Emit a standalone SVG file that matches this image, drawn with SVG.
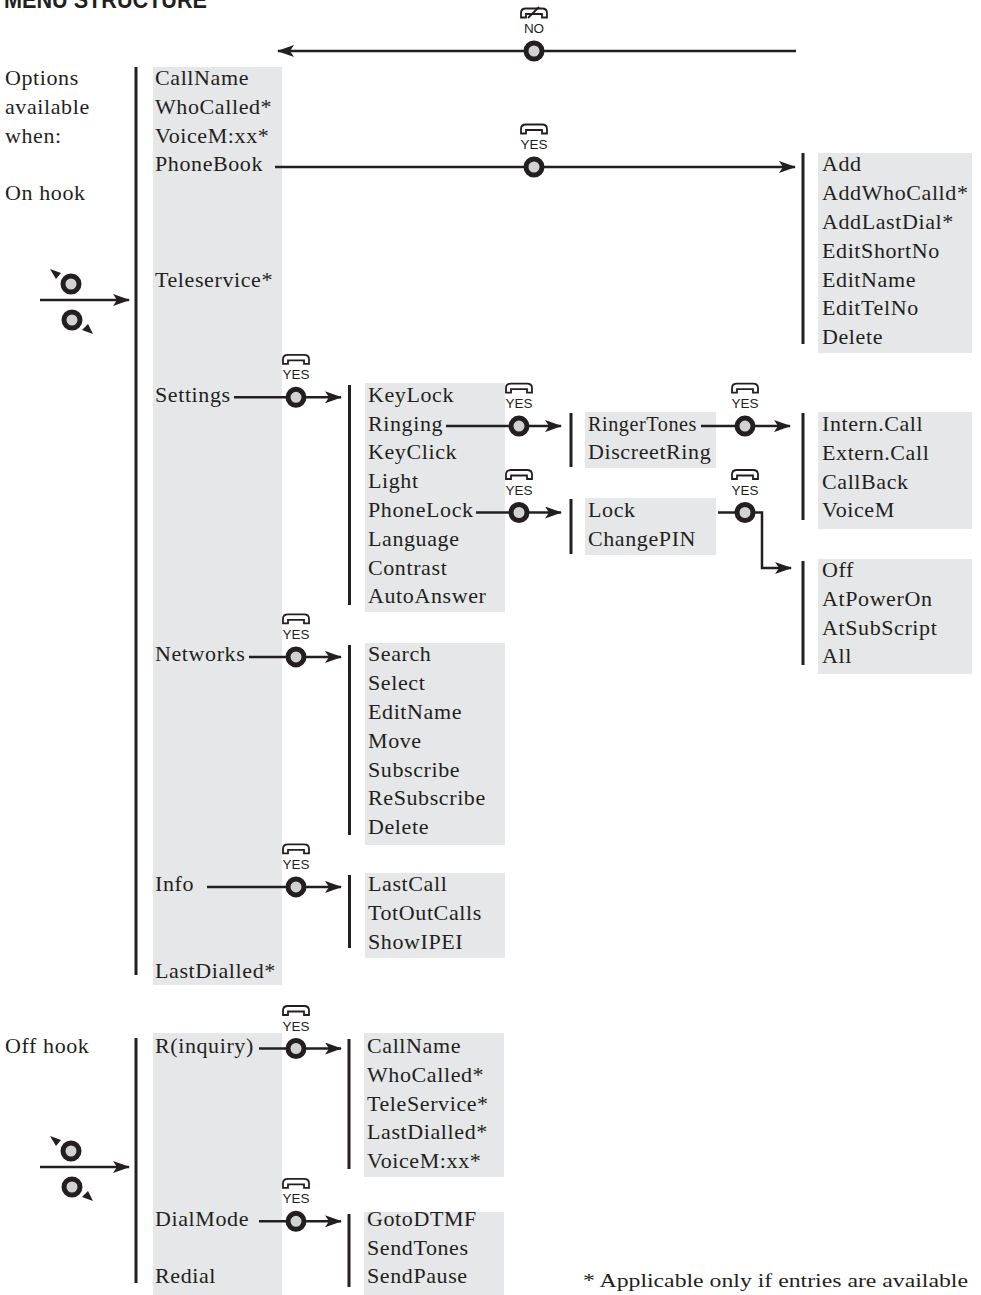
<svg xmlns="http://www.w3.org/2000/svg" xmlns:xlink="http://www.w3.org/1999/xlink" width="981" height="1295" viewBox="0 0 981 1295">
<style>
.box{fill:#e6e7e8}
.bar{stroke:#231f20;stroke-width:3}
.t{font-family:"Liberation Serif",serif;font-size:22px;letter-spacing:0.6px;fill:#231f20}
.lbl{font-family:"Liberation Sans",sans-serif;font-size:13.5px;fill:#231f20;text-anchor:middle}
.ln{stroke:#231f20;stroke-width:2.5;fill:none}
.ttl{font-family:"Liberation Sans",sans-serif;font-weight:bold;font-size:24px;fill:#231f20}
.fn{font-family:"Liberation Serif",serif;font-size:18px;fill:#231f20}
</style>
<defs>
<marker id="ah" markerUnits="userSpaceOnUse" markerWidth="17" markerHeight="12" viewBox="0 0 17 12" refX="16" refY="6" orient="auto">
<path d="M0,0 L17,6 L0,12 L4,6 Z" fill="#231f20"/>
</marker>
<circle id="knob" cx="0" cy="0" r="8" fill="#d1d2d4" stroke="#231f20" stroke-width="5"/>
<path id="ph" d="M-13,4.5 V0 Q-13,-4.5 -8,-4.5 H8 Q13,-4.5 13,0 V4.5 H8 V1 H-8 V4.5 Z" fill="#fff" stroke="#231f20" stroke-width="1.8"/>
<g id="yes"><use xlink:href="#ph" x="0" y="-38"/><text class="lbl" x="0" y="-18">YES</text></g>
<g id="nav">
<line class="ln" x1="40" y1="0" x2="129" y2="0" marker-end="url(#ah)"/>
<use xlink:href="#knob" x="71" y="-16"/>
<use xlink:href="#knob" x="72" y="20"/>
<path d="M50,-31 L61,-27 L56,-21 Z" fill="#231f20"/>
<path d="M93,34 L82,30 L88,24 Z" fill="#231f20"/>
</g>
</defs>
<rect width="981" height="1295" fill="#fff"/>
<text class="ttl" x="4" y="8" textLength="203" lengthAdjust="spacingAndGlyphs">MENU STRUCTURE</text>

<g id="legend">
<text class="t" x="5" y="85">Options</text>
<text class="t" x="5" y="113.8">available</text>
<text class="t" x="5" y="142.6">when:</text>
<text class="t" x="5" y="200.2">On hook</text>
<text class="t" x="5" y="1053">Off hook</text>
<use xlink:href="#nav" x="0" y="300"/>
<use xlink:href="#nav" x="0" y="1167"/>
</g>

<g id="onhook-menu">
<rect class="box" x="153" y="67" width="129" height="918"/>
<line class="bar" x1="136" y1="67" x2="136" y2="975"/>
<text class="t" x="155" y="85">CallName</text>
<text class="t" x="155" y="113.8">WhoCalled*</text>
<text class="t" x="155" y="142.6">VoiceM:xx*</text>
<text class="t" x="155" y="171.4">PhoneBook</text>
<text class="t" x="155" y="286.6">Teleservice*</text>
<text class="t" x="155" y="401.8">Settings</text>
<text class="t" x="155" y="661.4">Networks</text>
<text class="t" x="155" y="891.4">Info</text>
<text class="t" x="155" y="977.8">LastDialled*</text>
</g>

<g id="phonebook-menu">
<rect class="box" x="818" y="153" width="154" height="200"/>
<line class="bar" x1="803" y1="153" x2="803" y2="344"/>
<text class="t" x="822" y="171.4">Add</text>
<text class="t" x="822" y="200.2">AddWhoCalld*</text>
<text class="t" x="822" y="229">AddLastDial*</text>
<text class="t" x="822" y="257.8">EditShortNo</text>
<text class="t" x="822" y="286.6">EditName</text>
<text class="t" x="822" y="315.4">EditTelNo</text>
<text class="t" x="822" y="344.2">Delete</text>
</g>

<g id="settings-menu">
<rect class="box" x="365" y="383" width="140" height="229"/>
<line class="bar" x1="349.5" y1="385" x2="349.5" y2="605"/>
<text class="t" x="368" y="401.8">KeyLock</text>
<text class="t" x="368" y="430.6">Ringing</text>
<text class="t" x="368" y="459.4">KeyClick</text>
<text class="t" x="368" y="488.2">Light</text>
<text class="t" x="368" y="517">PhoneLock</text>
<text class="t" x="368" y="545.8">Language</text>
<text class="t" x="368" y="574.6">Contrast</text>
<text class="t" x="368" y="603.4">AutoAnswer</text>
</g>

<g id="ringing-menu">
<rect class="box" x="585" y="412" width="131" height="56"/>
<line class="bar" x1="571" y1="413" x2="571" y2="467"/>
<text class="t" x="588" y="430.6" textLength="109" lengthAdjust="spacingAndGlyphs">RingerTones</text>
<text class="t" x="588" y="459.4">DiscreetRing</text>
</g>

<g id="ringertones-menu">
<rect class="box" x="818" y="412" width="154" height="117"/>
<line class="bar" x1="803" y1="413" x2="803" y2="520"/>
<text class="t" x="822" y="431">Intern.Call</text>
<text class="t" x="822" y="459.8">Extern.Call</text>
<text class="t" x="822" y="488.6">CallBack</text>
<text class="t" x="822" y="517.4">VoiceM</text>
</g>

<g id="phonelock-menu">
<rect class="box" x="585" y="498" width="131" height="57"/>
<line class="bar" x1="571" y1="499" x2="571" y2="554"/>
<text class="t" x="588" y="517">Lock</text>
<text class="t" x="588" y="545.8">ChangePIN</text>
</g>

<g id="lock-menu">
<rect class="box" x="818" y="559" width="154" height="115"/>
<line class="bar" x1="803" y1="561" x2="803" y2="665"/>
<text class="t" x="822" y="577">Off</text>
<text class="t" x="822" y="605.8">AtPowerOn</text>
<text class="t" x="822" y="634.6">AtSubScript</text>
<text class="t" x="822" y="663.4">All</text>
</g>

<g id="networks-menu">
<rect class="box" x="365" y="643" width="140" height="202"/>
<line class="bar" x1="349.5" y1="645" x2="349.5" y2="835"/>
<text class="t" x="368" y="661.4">Search</text>
<text class="t" x="368" y="690.2">Select</text>
<text class="t" x="368" y="719">EditName</text>
<text class="t" x="368" y="747.8">Move</text>
<text class="t" x="368" y="776.6">Subscribe</text>
<text class="t" x="368" y="805.4">ReSubscribe</text>
<text class="t" x="368" y="834.2">Delete</text>
</g>

<g id="info-menu">
<rect class="box" x="365" y="873" width="140" height="85"/>
<line class="bar" x1="349.5" y1="875" x2="349.5" y2="948"/>
<text class="t" x="368" y="891.4">LastCall</text>
<text class="t" x="368" y="920.2">TotOutCalls</text>
<text class="t" x="368" y="949">ShowIPEI</text>
</g>

<g id="offhook-menu">
<rect class="box" x="153" y="1033" width="129" height="262"/>
<line class="bar" x1="136" y1="1038" x2="136" y2="1283"/>
<text class="t" x="155" y="1053">R(inquiry)</text>
<text class="t" x="155" y="1225.8">DialMode</text>
<text class="t" x="155" y="1283.4">Redial</text>
</g>

<g id="inquiry-menu">
<rect class="box" x="364" y="1033" width="140" height="144"/>
<line class="bar" x1="349" y1="1039" x2="349" y2="1169"/>
<text class="t" x="367" y="1053">CallName</text>
<text class="t" x="367" y="1081.8">WhoCalled*</text>
<text class="t" x="367" y="1110.6">TeleService*</text>
<text class="t" x="367" y="1139.4">LastDialled*</text>
<text class="t" x="367" y="1168.2">VoiceM:xx*</text>
</g>

<g id="dialmode-menu">
<rect class="box" x="364" y="1212" width="140" height="83"/>
<line class="bar" x1="349" y1="1214" x2="349" y2="1287"/>
<text class="t" x="367" y="1225.8">GotoDTMF</text>
<text class="t" x="367" y="1254.6">SendTones</text>
<text class="t" x="367" y="1283.4">SendPause</text>
</g>

<g id="connectors">
<line class="ln" x1="796" y1="51" x2="278" y2="51" marker-end="url(#ah)"/>
<use xlink:href="#knob" x="534" y="51"/>
<use xlink:href="#ph" x="534" y="13"/>
<line x1="528" y1="18" x2="539" y2="7" stroke="#231f20" stroke-width="1.8"/>
<text class="lbl" x="534" y="33">NO</text>

<line class="ln" x1="275" y1="167" x2="795" y2="167" marker-end="url(#ah)"/>
<use xlink:href="#knob" x="534" y="167"/>
<use xlink:href="#yes" x="534" y="167"/>

<line class="ln" x1="234" y1="397.3" x2="341" y2="397.3" marker-end="url(#ah)"/>
<use xlink:href="#knob" x="296" y="397.3"/>
<use xlink:href="#yes" x="296" y="397.3"/>

<line class="ln" x1="446" y1="426.1" x2="561" y2="426.1" marker-end="url(#ah)"/>
<use xlink:href="#knob" x="519" y="426.1"/>
<use xlink:href="#yes" x="519" y="426.1"/>

<line class="ln" x1="701" y1="426.1" x2="790" y2="426.1" marker-end="url(#ah)"/>
<use xlink:href="#knob" x="745" y="426.1"/>
<use xlink:href="#yes" x="745" y="426.1"/>

<line class="ln" x1="476" y1="512.5" x2="561" y2="512.5" marker-end="url(#ah)"/>
<use xlink:href="#knob" x="519" y="512.5"/>
<use xlink:href="#yes" x="519" y="512.5"/>

<path class="ln" d="M718,512.5 H762 V568 H791" marker-end="url(#ah)"/>
<use xlink:href="#knob" x="745" y="512.5"/>
<use xlink:href="#yes" x="745" y="512.5"/>

<line class="ln" x1="249" y1="656.9" x2="341" y2="656.9" marker-end="url(#ah)"/>
<use xlink:href="#knob" x="296" y="656.9"/>
<use xlink:href="#yes" x="296" y="656.9"/>

<line class="ln" x1="207" y1="886.9" x2="341" y2="886.9" marker-end="url(#ah)"/>
<use xlink:href="#knob" x="296" y="886.9"/>
<use xlink:href="#yes" x="296" y="886.9"/>

<line class="ln" x1="259" y1="1048.5" x2="341" y2="1048.5" marker-end="url(#ah)"/>
<use xlink:href="#knob" x="296" y="1048.5"/>
<use xlink:href="#yes" x="296" y="1048.5"/>

<line class="ln" x1="259" y1="1221.3" x2="341" y2="1221.3" marker-end="url(#ah)"/>
<use xlink:href="#knob" x="296" y="1221.3"/>
<use xlink:href="#yes" x="296" y="1221.3"/>
</g>

<text class="fn" x="583" y="1287" textLength="385" lengthAdjust="spacingAndGlyphs">* Applicable only if entries are available</text>
</svg>
